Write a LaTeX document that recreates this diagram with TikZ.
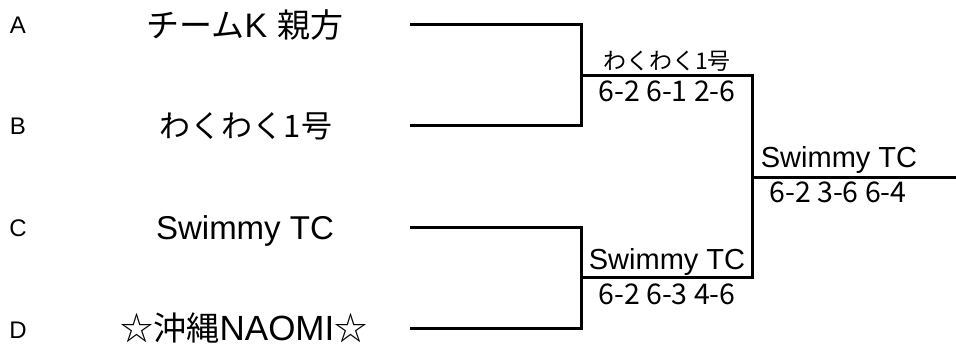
\documentclass[tikz,border=0pt]{standalone}
\usepackage{fontspec}
\setmainfont{Liberation Sans}
\newfontfamily\jp{Noto Sans CJK JP}
\begin{document}
\begin{tikzpicture}[x=1pt,y=-1pt,
  bracket/.style={line width=3pt,line join=miter,line cap=butt},
  letter/.style={anchor=base,inner sep=0pt,font=\fontsize{24}{24}\selectfont},
  team/.style={anchor=base,inner sep=0pt,font=\fontsize{33}{33}\selectfont\jp},
  teamlat/.style={anchor=base,inner sep=0pt,font=\fontsize{33}{33}\selectfont},
  winjp/.style={anchor=base,inner sep=0pt,font=\fontsize{23}{23}\selectfont\jp},
  winlat/.style={anchor=base,inner sep=0pt,font=\fontsize{29}{29}\selectfont},
  score/.style={anchor=base,inner sep=0pt,font=\fontsize{28.5}{28.5}\selectfont\jp}]
\useasboundingbox (0,0) rectangle (956,347);
% coordinates
\coordinate (aL) at (410,25);  \coordinate (aR) at (581,25);
\coordinate (bL) at (410,126); \coordinate (bR) at (581,126);
\coordinate (cL) at (410,228); \coordinate (cR) at (581,228);
\coordinate (dL) at (410,329); \coordinate (dR) at (581,329);
\coordinate (s1L) at (581,76);  \coordinate (s1R) at (752,76);
\coordinate (s2L) at (581,278); \coordinate (s2R) at (752,278);
\coordinate (fL) at (752,178);  \coordinate (fR) at (956,178);
% bracket lines
\draw[bracket] (aL) -- (aR) -- (bR) -- (bL);
\draw[bracket] (cL) -- (cR) -- (dR) -- (dL);
\draw[bracket] (s1L) -- (s1R) -- (s2R) -- (s2L);
\draw[bracket] (fL) -- (fR);
% letters
\node[letter] (lA) at (18,34) {A};
\node[letter] (lB) at (18,135) {B};
\node[letter] (lC) at (18,237) {C};
\node[letter] (lD) at (18,338) {D};
% teams
\node[team] (tA) at (245,38) {チーム{\fontsize{34}{34}\selectfont\rmfamily K}\hspace{10pt}親方};
\node[team,font=\fontsize{31}{31}\selectfont\jp] (tB) at (246,138) {わくわく1号};
\node[teamlat] (tC) at (245,240) {Swimmy TC};
\node[team] (tD) at (244,341) {☆沖縄{\fontsize{35}{35}\selectfont\rmfamily NAOMI}☆};
% semifinal results
\node[winjp] (w1) at (667,70) {わくわく1号};
\node[score] (r1) at (667,102) {6-2 6-1 2-6};
\node[winlat] (w2) at (667,270) {Swimmy TC};
\node[score] (r2) at (667,305) {6-2 6-3 4-6};
% final
\node[winlat] (wf) at (839,168) {Swimmy TC};
\node[score] (rf) at (838,203) {6-2 3-6 6-4};
\end{tikzpicture}
\end{document}
